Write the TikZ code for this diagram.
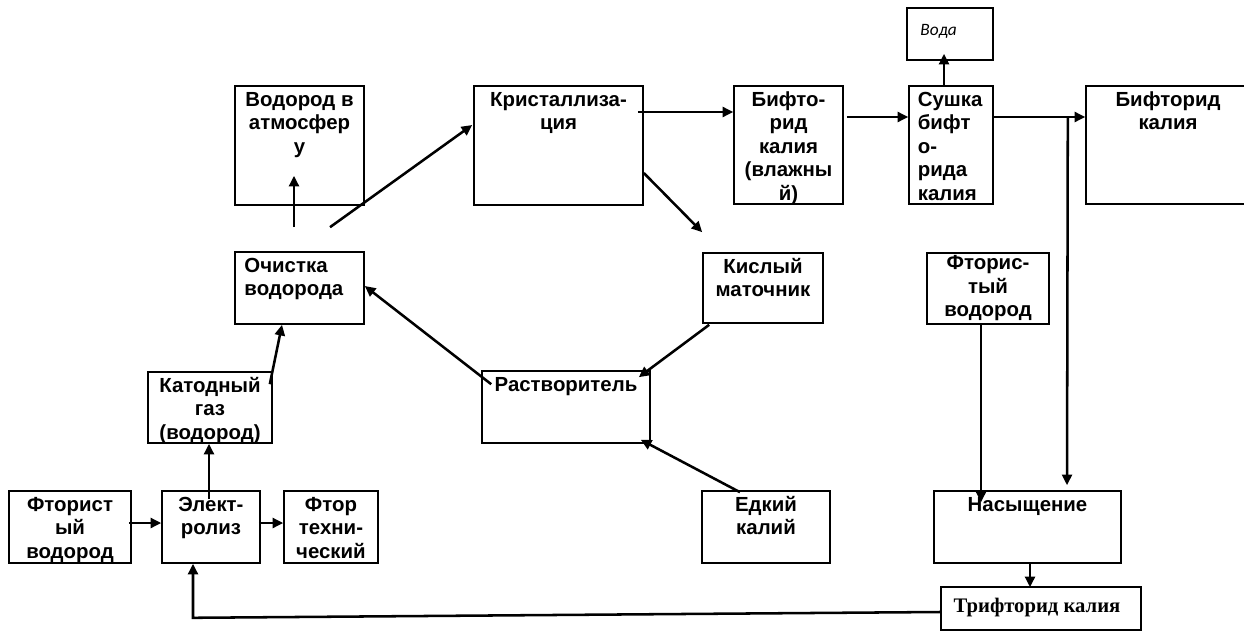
\documentclass[tikz,border=0pt]{standalone}
\usepackage{fontspec}
\setmainfont{Liberation Sans}
\newfontfamily\serifbold{Liberation Serif}
\newfontfamily\carlfont{Carlito}
\usetikzlibrary{arrows.meta,fit,calc}
\begin{document}
\begin{tikzpicture}[x=0.75pt,y=-0.75pt,
  bx/.style={draw, line width=1.2pt, inner sep=0pt},
  tx/.style={font=\fontsize{15.3}{17.6}\selectfont\bfseries, align=center, inner sep=0pt, anchor=north, yshift=-3.2pt},
  txl/.style={tx, align=left, anchor=north west, xshift=7.5pt},
  arr/.style={line width=1.9pt, -{Triangle[length=8pt,width=7.5pt]}}]
\useasboundingbox (0,0) rectangle (1244,631);

% boxes
\node[bx, fit={(9,491) (131,563)}] (hfL) {};
\node[bx, fit={(162,491) (260,563)}] (el) {};
\node[bx, fit={(284,491) (378,563)}] (ft) {};
\node[bx, fit={(148,372) (272,443)}] (kg) {};
\node[bx, fit={(235,252) (364,324)}] (och) {};
\node[bx, fit={(235,86) (364,205)}] (vod) {};
\node[bx, fit={(474,86) (643,205)}] (kr) {};
\node[bx, fit={(734,86) (843,204)}] (bv) {};
\node[bx, fit={(909,86) (993,204)}] (su) {};
\node[bx, fit={(907,8) (993,60)}] (voda) {};
\node[bx, fit={(1086,86) (1250,204)}] (bk) {};
\node[bx, fit={(703,253) (823,323)}] (km) {};
\node[bx, fit={(482,371) (650,443)}] (rs) {};
\node[bx, fit={(702,491) (830,563)}] (ek) {};
\node[bx, fit={(927,253) (1049,324)}] (hfR) {};
\node[bx, fit={(934,491) (1121,563)}] (nas) {};
\node[bx, fit={(941,587) (1141,630)}] (tri) {};

% texts
\node[tx] (hfLt) at (hfL.north) {\strut Фторист\\ый\\водород};
\node[tx] (elt) at (el.north) {\strut Элект-\\ролиз};
\node[tx] (ftt) at (ft.north) {\strut Фтор\\техни-\\ческий};
\node[tx] (kgt) at (kg.north) {\strut Катодный\\газ\\(водород)};
\node[txl] (ocht) at (och.north west) {\strut Очистка\\водорода};
\node[tx] (vodt) at (vod.north) {\strut Водород в\\атмосфер\\у};
\node[tx] (krt) at (kr.north) {\strut Кристаллиза-\\ция};
\node[tx] (bvt) at (bv.north) {\strut Бифто-\\рид\\калия\\(влажны\\й)};
\node[txl, xshift=-0.5pt] (sut) at (su.north west) {\strut Сушка\\бифт\\о-\\рида\\калия};
\node[font=\fontsize{13}{15}\selectfont\carlfont\itshape, anchor=base west, inner sep=0pt] (vodat) at ($(voda.north west)+(14,28)$) {Вода};
\node[tx] (bkt) at (bk.north) {\strut Бифторид\\калия};
\node[tx] (kmt) at (km.north) {\strut Кислый\\маточник};
\node[tx] (rst) at (rs.north) {\strut Растворитель};
\node[tx] (ekt) at (ek.north) {\strut Едкий\\калий};
\node[tx, yshift=2.6pt] (hfRt) at (hfR.north) {\strut Фторис-\\тый\\водород};
\node[tx] (nast) at (nas.north) {\strut Насыщение};
\node[font=\fontsize{15.5}{18}\selectfont\serifbold\bfseries, anchor=base, inner sep=0pt] (trit) at ($(tri.north)+(-4,26)$) {Трифторид калия};

% connectors
\draw[arr] ($(hfL.east)+(-3,-4)$) -- ($(el.west)+(0,-4)$);
\draw[arr] ($(el.east)+(-2,-4)$) -- ($(ft.west)+(0,-4)$);
\draw[arr] ($(el.north)+(-2,9)$) -- ($(kg.south)+(-1,0)$);
\draw[arr] ($(kg.north east)+(-3,13)$) -- ($(och.south)+(-17.5,0)$);
\draw[arr] ($(och.north)+(-5.5,-24)$) -- ($(vod.south)+(-5.5,-30)$);
\draw[arr] ($(och.north)+(30.5,-24)$) -- ($(kr.west)+(-1,-20.5)$);
\draw[arr] ($(rs.north west)+(10,14)$) -- ($(och.east)+(0,-2)$);
\draw[arr] ($(km.south west)+(7,1)$) -- ($(rs.north east)+(-12,7)$);
\draw[arr] ($(ek.north)+(-26,2)$) -- ($(rs.south east)+(-10,-4)$);
\draw[arr] ($(kr.east)+(0,27.5)$) -- ($(km.north west)+(0,-20)$);
\draw[arr] ($(kr.east)+(-6,-33.5)$) -- ($(bv.west)+(0,-33)$);
\draw[arr] ($(bv.east)+(3,-28)$) -- ($(su.west)+(0,-28)$);
\draw[arr] ($(su.north)+(-7,0)$) -- ($(voda.south)+(-6,-7)$);
\draw[arr] ($(su.east)+(0,-28)$) -- ($(bk.west)+(0,-28)$);
\coordinate (br) at ($(su.east)+(74,-28)$);
\draw[arr] (br) -- ($(nas.north)+(39.5,-5)$);
\draw[arr] ($(hfR.south)+(-7,0)$) -- ($(nas.north)+(-46.5,12)$);
\draw[arr] ($(nas.south)+(2.5,0)$) -- ($(tri.north)+(-11,1)$);
\coordinate (fbc) at ($(el.south)+(-18,54)$);
\draw[arr] ($(tri.west)+(0,3.5)$) -- (fbc) -- ($(el.south)+(-18,0)$);
\end{tikzpicture}
\end{document}
